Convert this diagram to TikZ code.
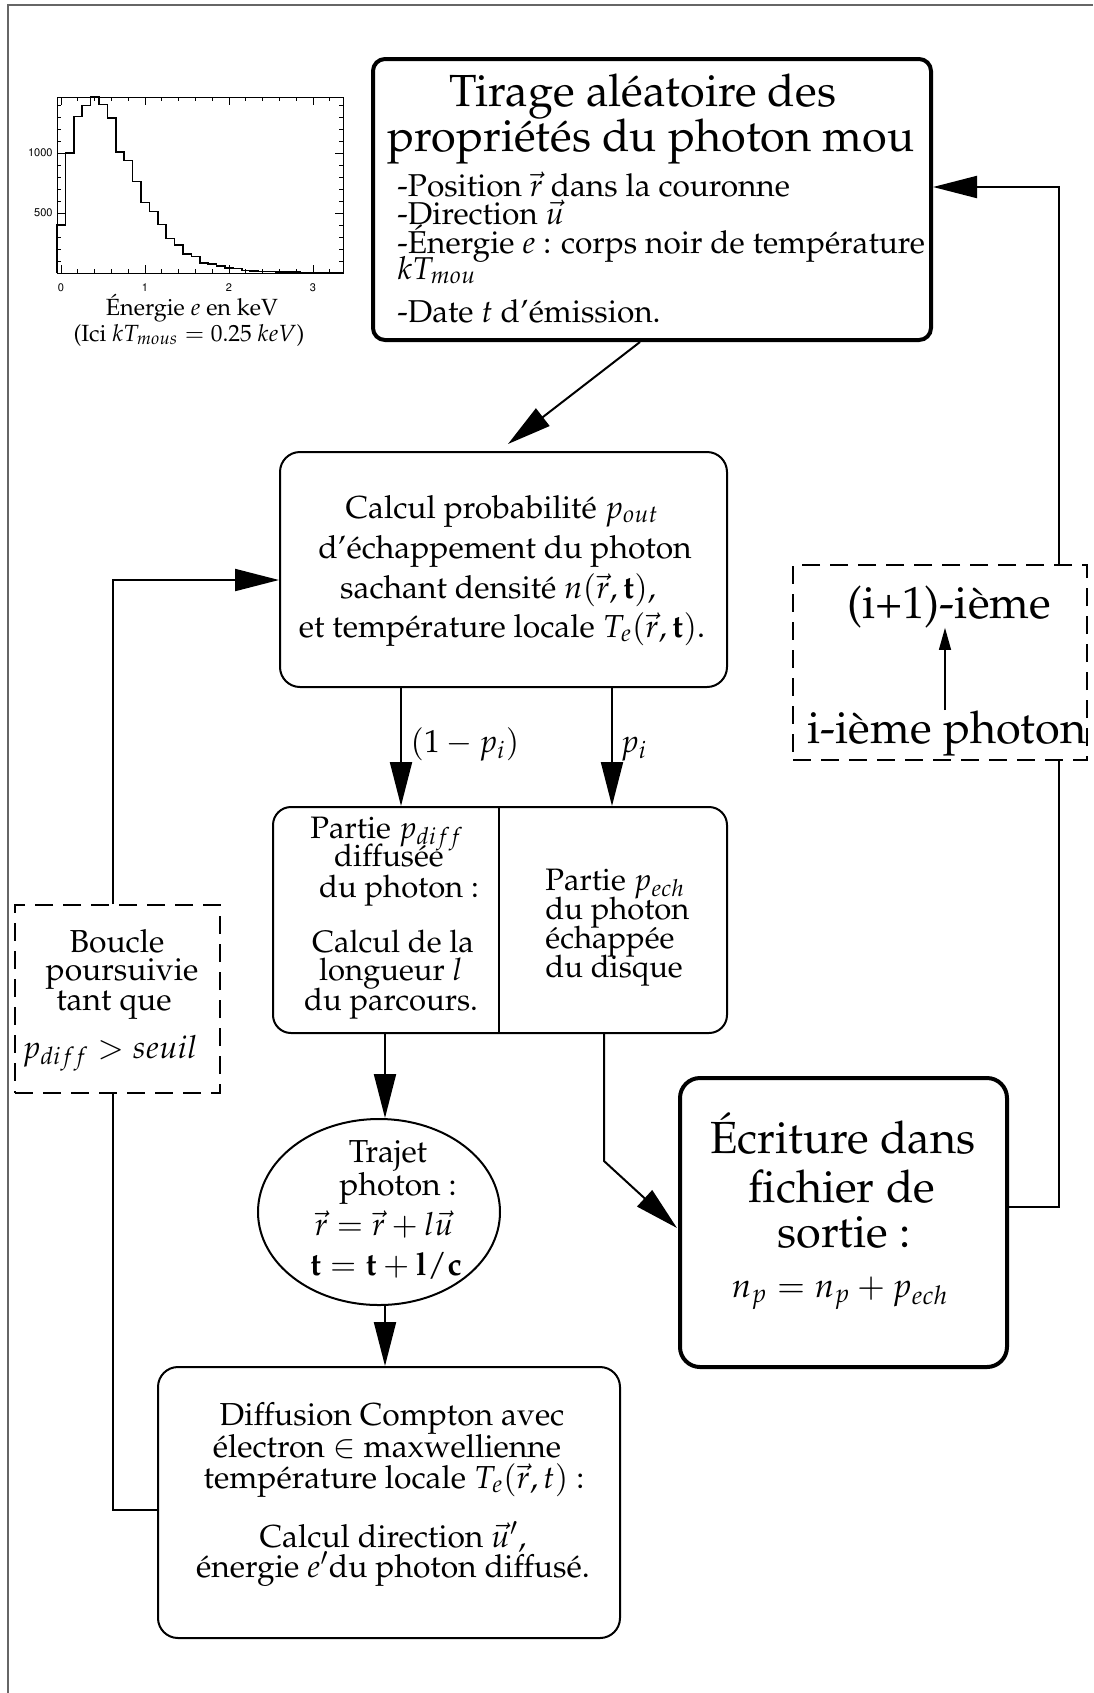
\documentclass[tikz,border=0pt]{standalone}
\usepackage[T1]{fontenc}
\usepackage{mathpazo}
\usepackage[scaled=0.92]{helvet}
\usetikzlibrary{arrows.meta,shapes.geometric,calc}
\tikzset{
  bx/.style={draw, line width=1pt, inner sep=0pt, rounded corners=10pt},
  thickbx/.style={draw, line width=2pt, inner sep=0pt, rounded corners=7pt},
  dbx/.style={draw, line width=1pt, inner sep=0pt, dash pattern=on 9pt off 5pt},
  con/.style={line width=1pt},
  arr/.style={line width=1pt, -{Triangle[length=22pt,width=11pt]}},
  smallarr/.style={line width=0.6pt, -{Triangle[length=11pt,width=6pt]}},
  txt/.style={inner sep=0pt, anchor=base},
  ftitle/.style={txt, font=\fontsize{22.5}{22}\selectfont},
  fitem/.style={txt, anchor=base west, font=\fontsize{15.8}{16}\selectfont},
  fbody/.style={txt, font=\fontsize{15.9}{16}\selectfont},
  fsplit/.style={txt, font=\fontsize{15.5}{16}\selectfont},
  fbig/.style={txt, font=\fontsize{22.5}{22}\selectfont},
  fhist/.style={txt, font=\fontsize{11.7}{12}\selectfont},
  ticklab/.style={inner sep=0pt, font=\sffamily\fontsize{6}{6}\selectfont},
}
\begin{document}
\begin{tikzpicture}[x=0.5pt,y=-0.5pt]
\useasboundingbox (0,0) rectangle (1093,1693);
% outer frame (left and top edges)
\draw[line width=1pt, black!60] (8,1693) -- (8,5) -- (1093,5);

% ---------- histogram ----------
\draw[line width=0.5pt] (57,97) rectangle (343,273);
\foreach \e in {0,...,16} {
  \draw[line width=0.4pt] ({61+16.8*\e},273) -- ++(0,-4);
  \draw[line width=0.4pt] ({61+16.8*\e},97) -- ++(0,4);
}
\foreach \e in {0,1,2,3} {
  \draw[line width=0.5pt] ({61+84*\e},273) -- ++(0,-8);
  \draw[line width=0.5pt] ({61+84*\e},97) -- ++(0,8);
}
\foreach \v in {1,...,14} {
  \draw[line width=0.4pt] (57,{273-12*\v}) -- ++(4,0);
  \draw[line width=0.4pt] (343,{273-12*\v}) -- ++(-4,0);
}
\foreach \v in {5,10} {
  \draw[line width=0.5pt] (57,{273-12*\v}) -- ++(8,0);
  \draw[line width=0.5pt] (343,{273-12*\v}) -- ++(-8,0);
}
\draw[line width=0.8pt] (57,273)
  \foreach \v [count=\k from 0] in {400,1000,1305,1397,1467,1403,1292,1006,936,764,589,514,403,289,231,158,139,83,75,56,42,36,22,19,14,12,10,8,6,5,4,3,2,1}
  { -- ({57+8.4*\k},{273-0.12*\v}) -- ({57+8.4*(\k+1)},{273-0.12*\v}) };
\node[ticklab] (tx0) at (61,288) {0};
\node[ticklab] (tx1) at (145,288) {1};
\node[ticklab] (tx2) at (229,288) {2};
\node[ticklab] (tx3) at (313,288) {3};
\node[ticklab, anchor=east] (ty1) at (53,153) {1000};
\node[ticklab, anchor=east] (ty2) at (53,213) {500};
\node[fhist] (h1) at (192,315) {\'Energie $e$ en keV};
\node[fhist] (h2) at (189,341) {(Ici $kT_{mous}=0.25\ keV$)};

% ---------- boxes ----------
\node[thickbx, rounded corners=6pt, minimum width=279pt, minimum height=140.5pt] (tirage) at (652,199.5) {};
\node[bx, minimum width=223.5pt, minimum height=117.5pt] (calcul) at (503.5,569.5) {};
\node[bx, rounded corners=9pt, minimum width=227pt, minimum height=113pt] (split) at (500,920) {};
\node[draw, ellipse, line width=1pt, inner sep=0pt, minimum width=121pt, minimum height=93pt] (traj) at (379,1212) {};
\node[bx, minimum width=231pt, minimum height=135.5pt] (diff) at (389,1502.5) {};
\node[dbx, minimum width=102.5pt, minimum height=94pt] (boucle) at (117.5,999) {};
\node[thickbx, rounded corners=10pt, minimum width=163.5pt, minimum height=144.5pt] (ecrit) at (843.5,1222.5) {};
\node[dbx, minimum width=147pt, minimum height=97.5pt] (ibox) at (940,662.5) {};

% split divider
\coordinate (dv) at (499,0);
\draw[con] (split.north -| dv) -- (split.south -| dv);

% ---------- texts ----------
\node[ftitle] (ti1) at (643,106) {Tirage al\'eatoire des};
\node[ftitle] (ti2) at (651,151) {propri\'et\'es du photon mou};
\node[fitem] (it1) at (397,196) {-Position $\vec r$ dans la couronne};
\node[fitem] (it2) at (397,224) {-Direction $\vec u$};
\node[fitem] (it3) at (397,253) {-\'Energie $e$ : corps noir de temp\'erature};
\node[fitem] (it4) at (397,279) {$kT_{mou}$};
\node[fitem] (it5) at (397,322) {-Date $t$ d'\'emission.};

\node[fbody] (c1) at (502,518) {Calcul probabilit\'e $p_{out}$};
\node[fbody] (c2) at (505,558) {d'\'echappement du photon};
\node[fbody] (c3) at (498,598) {sachant densit\'e $n(\vec r,\mathbf{t})$,};
\node[fbody] (c4) at (502,637) {et temp\'erature locale $T_e(\vec r,\mathbf{t})$.};

\node[fbody, anchor=base west] (lab1) at (410,752) {$(1-p_i)$};
\node[fbody, anchor=base west] (lab2) at (620,752) {$p_i$};

\node[fsplit] (s1) at (387,838) {Partie $p_{diff}$};
\node[fsplit] (s2) at (389,866) {diffus\'ee};
\node[fsplit] (s3) at (399,897) {du photon :};
\node[fsplit] (s4) at (393,952) {Calcul de la};
\node[fsplit] (s5) at (391,980) {longueur $l$};
\node[fsplit] (s6) at (391,1010) {du parcours.};
\node[fsplit, anchor=base west] (s7) at (545,890) {Partie $p_{ech}$};
\node[fsplit, anchor=base west] (s8) at (545,919) {du photon};
\node[fsplit, anchor=base west] (s9) at (545,948) {\'echapp\'ee};
\node[fsplit, anchor=base west] (s10) at (545,977) {du disque};

\node[fbody] (b1) at (117,952) {Boucle};
\node[fbody] (b2) at (122,980) {poursuivie};
\node[fbody] (b3) at (114,1010) {tant que};
\node[fbody] (b4) at (110,1058) {$p_{diff}>seuil$};

\node[fbody] (e1) at (388,1162) {Trajet};
\node[fbody] (e2) at (398,1195) {photon :};
\node[fbody] (e3) at (384,1235) {$\vec r=\vec r+l\vec u$};
\node[fbody] (e4) at (386,1275) {$\mathbf{t}=\mathbf{t}+\mathbf{l}/\mathbf{c}$};

\node[fbody] (d1) at (392,1425) {Diffusion Compton avec};
\node[fbody] (d2) at (387,1457) {\'electron $\in$ maxwellienne};
\node[fbody] (d3) at (394,1488) {temp\'erature locale $T_e(\vec r,t)$ :};
\node[fbody] (d4) at (393,1547) {Calcul direction $\vec u'$,};
\node[fbody] (d5) at (393,1577) {\'energie $e'$du photon diffus\'e.};

\node[fbig] (w1) at (843,1153) {\'Ecriture dans};
\node[fbig] (w2) at (842,1202) {fichier de};
\node[fbig] (w3) at (844,1247) {sortie :};
\node[txt, font=\fontsize{17}{17}\selectfont] (w4) at (840,1297) {$n_p=n_p+p_{ech}$};

\node[fbig] (p1) at (949,618) {(i+1)-i\`eme};
\node[fbig] (p2) at (947,743) {i-i\`eme photon};

% ---------- connectors ----------
\coordinate (a1) at (640,0);
\coordinate (a1t) at (508,444);
\draw[arr] (tirage.south -| a1) -- (a1t);

\coordinate (xl) at (401,0);
\coordinate (xr) at (612,0);
\draw[arr] (calcul.south -| xl) -- (split.north -| xl);
\draw[arr] (calcul.south -| xr) -- (split.north -| xr);

\coordinate (tx) at (385,0);
\draw[arr] (split.south -| tx) -- (traj.north -| tx);
\draw[arr] (traj.south -| tx) -- (diff.north -| tx);

\coordinate (lx) at (113,0);
\coordinate (ly) at (0,1510);
\coordinate (ty) at (0,580);
\draw[con] (diff.west |- ly) -- (lx |- ly) -- (boucle.south -| lx);
\draw[arr] (boucle.north -| lx) -- (lx |- ty) -- (calcul.west |- ty);

\coordinate (sx) at (604,0);
\coordinate (bend) at (604,1161);
\coordinate (etip) at (677,1228);
\draw[arr] (split.south -| sx) -- (bend) -- (etip);

\coordinate (rx) at (1059,0);
\coordinate (ry) at (0,1207);
\coordinate (topy) at (0,187);
\draw[con] (ecrit.east |- ry) -- (rx |- ry) -- (ibox.south -| rx);
\draw[arr] (ibox.north -| rx) -- (rx |- topy) -- (tirage.east |- topy);

\coordinate (ax) at (945,0);
\draw[smallarr] (p2.north -| ax) -- (p1.south -| ax);
\end{tikzpicture}
\end{document}
